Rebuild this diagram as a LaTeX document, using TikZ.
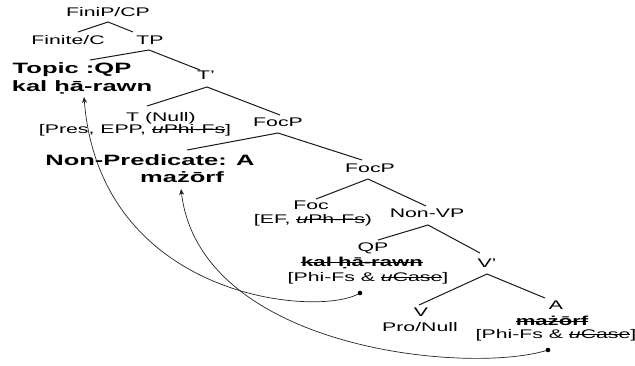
\documentclass[tikz,border=0pt]{standalone}
\usepackage{fontspec}
\setmainfont{Liberation Sans}[FakeStretch=1.7]
\newcommand\mystrike[1]{\setbox0=\hbox{#1}\rlap{\copy0}\rule[0.3em]{\wd0}{0.7pt}}
\usetikzlibrary{arrows.meta,calc}
\tikzset{
  lab/.style={inner sep=0pt,font=\fontsize{12.5}{14}\selectfont,text=black},
  blab/.style={inner sep=0pt,font=\fontsize{15}{17}\selectfont\bfseries,text=black},
  sblab/.style={inner sep=0pt,font=\fontsize{13}{15}\selectfont\bfseries,text=black},
  branch/.style={line width=1pt,black!90},
  move/.style={line width=0.7pt,black!85,-{Stealth[length=6pt,width=5pt]}},
  trace/.style={fill=black}
}
\begin{document}
\begin{tikzpicture}[x=1pt,y=-1pt]
\useasboundingbox[fill=white] (0,0) rectangle (635,365);
% nodes
\node[lab] (fini) at (108,12) {FiniP/CP};
\node[lab] (finite) at (68,40) {Finite/C};
\node[lab] (tp) at (150,40) {TP};
\node[blab] (topic) at (72,70) {Topic :QP};
\node[blab] (topicw) at (82,87) {kal ḥā-rawn};
\node[lab] (tbar) at (206,75) {T'};
\node[lab] (tnull) at (161,118) {T (Null)};
\node[lab] (tfeat) at (135,130) {[Pres, EPP, \mystrike{\textit{u}Phi-Fs}]};
\node[lab] (focp1) at (278,122) {FocP};
\node[blab] (nonpred) at (150,160) {Non-Predicate: A};
\node[blab] (nonpredw) at (182,177) {mażōrf};
\node[lab] (focp2) at (370,168) {FocP};
\node[lab] (foc) at (311,205) {Foc};
\node[lab] (focfeat) at (313,220) {[EF, \mystrike{\textit{u}Ph-Fs})};
\node[lab] (nonvp) at (427,213) {Non-VP};
\node[lab] (qp) at (373,248) {QP};
\node[sblab] (qpw) at (362,263) {\mystrike{kal ḥā-rawn}};
\node[lab] (qpfeat) at (368,278) {[Phi-Fs \& \mystrike{\textit{u}Case}]};
\node[lab] (vbar) at (487,263) {V'};
\node[lab] (v) at (421,312) {V};
\node[lab] (pronull) at (420,327) {Pro/Null};
\node[lab] (a) at (556,305) {A};
\node[sblab] (aw) at (552,321) {\mystrike{mażōrf}};
\node[lab] (afeat) at (556,335) {[Phi-Fs \& \mystrike{\textit{u}Case}]};
\coordinate (qpdot) at (360,293);
\coordinate (adot) at (548,350);
% branches
\draw[branch] ($(finite.center)+(10,-8)$) -- ($(fini.center)+(0,10)$) -- ($(tp.center)+(-17,-8)$);
\draw[branch] ($(topic.center)+(18,-10)$) -- ($(tp.center)+(-1,10)$) -- ($(tbar.center)+(-6,-5)$);
\draw[branch] ($(tnull.center)+(-14,-12)$) -- ($(tbar.center)+(1,12)$) -- ($(focp1.center)+(2,-7)$);
\draw[branch] ($(nonpred.center)+(37,-10)$) -- ($(focp1.center)+(0,11)$) -- ($(focp2.center)+(-8,-8)$);
\draw[branch] ($(foc.center)+(5,-6)$) -- ($(focp2.center)+(-2,11)$) -- ($(nonvp.center)+(-1,-7)$);
\draw[branch] ($(qp.center)+(5,-8)$) -- ($(nonvp.center)+(1,12)$) -- ($(vbar.center)+(-7,-10)$);
\draw[branch] ($(v.center)+(-2,-7)$) -- ($(vbar.center)+(0,11)$) -- ($(a.center)+(-11,-7)$);
% movement arrows
\draw[move] (qpdot) .. controls (320,318) and (100,300) .. ($(topicw.center)+(2,10)$);
\draw[move] (adot) .. controls (470,375) and (200,350) .. ($(nonpredw.center)+(-1,12)$);
\fill[trace] (qpdot) circle (2.3);
\fill[trace] (adot) circle (2.3);
\end{tikzpicture}
\end{document}
